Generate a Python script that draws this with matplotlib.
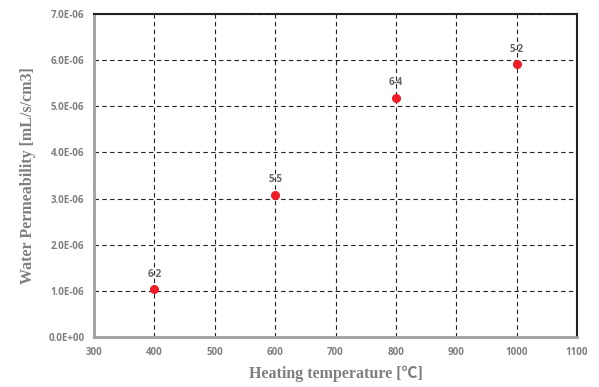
import matplotlib
matplotlib.use("Agg")
import matplotlib.pyplot as plt

temps = [400, 600, 800, 1000]
perm = [1.03e-6, 3.08e-6, 5.19e-6, 5.91e-6]
labels = ["6-2", "5-5", "6-4", "5-2"]
xticks = [300, 400, 500, 600, 700, 800, 900, 1000, 1100]
yticks = [0, 1e-6, 2e-6, 3e-6, 4e-6, 5e-6, 6e-6, 7e-6]

gray = "#7f7f7f"
tick_font = {"family": "Open Sans", "weight": "bold", "size": 7}

fig = plt.figure(figsize=(5.99, 3.87), dpi=100)
ax = fig.add_axes([94 / 599, 1 - 337 / 387, (577 - 94) / 599, (337 - 14) / 387])

ax.scatter(temps, perm, s=30, color="#ee1c25", zorder=3)
for x, y, t in zip(temps, perm, labels):
    ax.annotate(t, (x, y), xytext=(0, 7), textcoords="offset points",
                ha="center", va="bottom", color="#666666",
                fontfamily="Open Sans", fontweight="bold", fontsize=7)

ax.set_xlim(300, 1100)
ax.set_ylim(0, 7e-6)
ax.set_xticks(xticks)
ax.set_yticks(yticks)
ax.set_xticklabels([str(v) for v in xticks], fontdict=tick_font, color=gray)
ax.set_yticklabels(["%.1E" % v for v in yticks], fontdict=tick_font, color=gray)
ax.tick_params(length=0, pad=7)

ax.grid(True, linestyle=(0, (4, 3)), color="#222222", linewidth=0.8)
ax.set_axisbelow(True)

for s in ["top", "right"]:
    ax.spines[s].set_color("#222222")
    ax.spines[s].set_linewidth(1.5)
for s in ["left", "bottom"]:
    ax.spines[s].set_color("#a0a0a0")
    ax.spines[s].set_linewidth(2)

ax.set_xlabel("Heating temperature [\u2103]",
              family=["Liberation Serif", "Noto Sans CJK JP"],
              fontweight="bold", fontsize=11.5, color=gray, labelpad=6)
ax.set_ylabel("Water Permeability [mL/s/cm3]", family="Liberation Serif",
              fontweight="bold", fontsize=11.5, color=gray, labelpad=9)

fig.savefig("out.png", dpi=100)
